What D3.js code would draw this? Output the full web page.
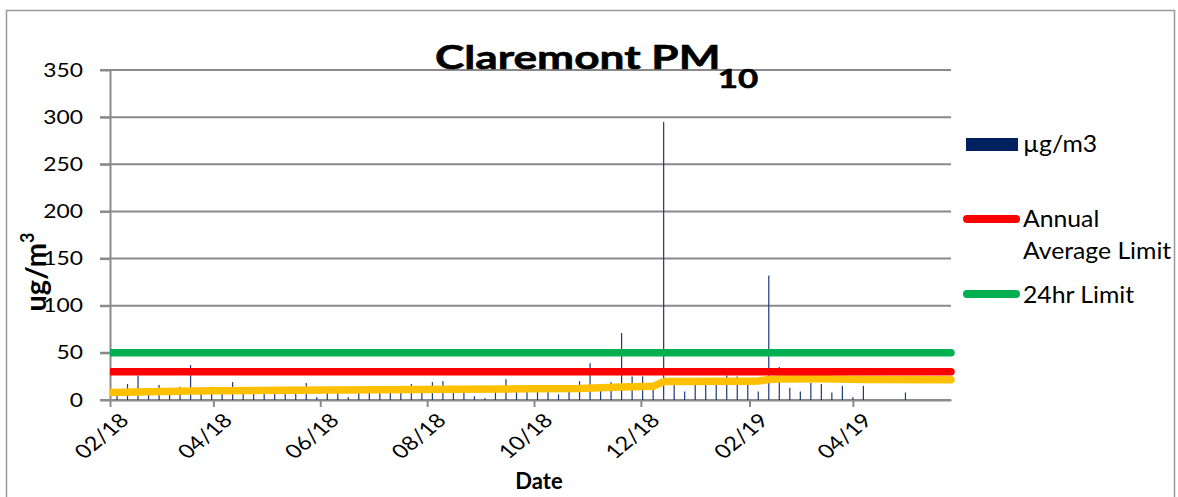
<!DOCTYPE html>
<html>
<head>
<meta charset="utf-8">
<script src="https://cdn.jsdelivr.net/npm/d3@7/dist/d3.min.js"></script>
<style>
  body { margin: 0; background: #fff; }
  text { font-family: Lato, "Open Sans", sans-serif; fill: #000; }
</style>
</head>
<body>
<svg width="1178" height="497"></svg>
<script>
// PM10 samples (1 in 6 day)
var sampleDates = [
  "2018-02-05", "2018-02-11", "2018-02-17", "2018-02-23", "2018-03-01", "2018-03-07",
  "2018-03-13", "2018-03-19", "2018-03-25", "2018-03-31", "2018-04-06", "2018-04-12",
  "2018-04-18", "2018-04-24", "2018-04-30", "2018-05-06", "2018-05-12", "2018-05-18",
  "2018-05-24", "2018-05-30", "2018-06-05", "2018-06-11", "2018-06-17", "2018-06-23",
  "2018-06-29", "2018-07-05", "2018-07-11", "2018-07-17", "2018-07-23", "2018-07-29",
  "2018-08-04", "2018-08-10", "2018-08-16", "2018-08-22", "2018-08-28", "2018-09-03",
  "2018-09-09", "2018-09-15", "2018-09-21", "2018-09-27", "2018-10-03", "2018-10-09",
  "2018-10-15", "2018-10-21", "2018-10-27", "2018-11-02", "2018-11-08", "2018-11-14",
  "2018-11-20", "2018-11-26", "2018-12-02", "2018-12-08", "2018-12-14", "2018-12-20",
  "2018-12-26", "2019-01-01", "2019-01-07", "2019-01-13", "2019-01-19", "2019-01-25",
  "2019-01-31", "2019-02-06", "2019-02-12", "2019-02-18", "2019-02-24", "2019-03-02",
  "2019-03-08", "2019-03-14", "2019-03-20", "2019-03-26", "2019-04-01", "2019-04-07",
  "2019-05-01"
];
var pm10 = [
  9, 17, 26, 10, 16, 9,
  14, 37, 10, 14, 9, 19,
  10, 11, 8, 10, 9, 11,
  18, 3, 9, 10, 3, 11,
  12, 10, 11, 9, 17, 12,
  19, 20, 11, 12, 4, 2,
  10, 22, 11, 12, 11, 12,
  6, 13, 20, 39, 13, 19,
  71, 25, 25, 18, 295, 18,
  9, 19, 18, 20, 26, 25,
  20, 9, 132, 35, 13, 9,
  18, 17, 8, 15, 3, 15,
  8
];

// running average (yellow line)
var avgDates = [
  "2018-02-01", "2018-03-19", "2018-04-01", "2018-05-12", "2018-07-05", "2018-08-16",
  "2018-09-27", "2018-10-27", "2018-11-20", "2018-12-08", "2018-12-14", "2019-01-31",
  "2019-02-06", "2019-02-12", "2019-02-18", "2019-03-14", "2019-04-07", "2019-05-27"
];
var avgValues = [
  8, 9.5, 9.8, 10.3, 11, 11.3,
  11.8, 12.3, 13.8, 14.5, 19.5, 20,
  20.2, 21.8, 22.3, 22.5, 21.8, 21.5
];

var limitDates = ["2018-02-01", "2019-05-27"];
var annualLimit = [30, 30];
var dailyLimit = [50, 50];

var xTicks = ["2018-02-01", "2018-04-01", "2018-06-01", "2018-08-01",
  "2018-10-01", "2018-12-01", "2019-02-01", "2019-04-01"];
var yTicks = [0, 50, 100, 150, 200, 250, 300, 350];
var legendLabels = [["µg/m3"], ["Annual", "Average Limit"], ["24hr Limit"]];

var parse = d3.timeParse("%Y-%m-%d");
var SX = 1.2; // text in the reference looks horizontally stretched

var svg = d3.select("svg");
var plot = { l: 110, r: 951, t: 70, b: 400 };

var x = d3.scaleTime()
  .domain([parse(limitDates[0]), parse(limitDates[1])])
  .range([plot.l, plot.r]);
var y = d3.scaleLinear().domain([0, 350]).range([plot.b, plot.t]);

// chart border
svg.append("rect")
  .attr("x", 6.5).attr("y", 10.5)
  .attr("width", 1168).attr("height", 520)
  .attr("fill", "none").attr("stroke", "#9a9a9a").attr("stroke-width", 1.5);

svg.append("defs").append("clipPath").attr("id", "clip")
  .append("rect")
  .attr("x", plot.l).attr("y", 0)
  .attr("width", 900).attr("height", 497);

// gridlines
svg.append("g").selectAll("line")
  .data(yTicks)
  .enter().append("line")
  .attr("x1", plot.l - 10).attr("x2", plot.r)
  .attr("y1", function (d) { return y(d); })
  .attr("y2", function (d) { return y(d); })
  .attr("stroke", "#8a8a8a").attr("stroke-width", 2);

// y axis
var yAxis = svg.append("g")
  .attr("transform", "translate(" + plot.l + ",0)")
  .call(d3.axisLeft(y).tickValues(yTicks).tickSizeInner(10).tickSizeOuter(0).tickPadding(17));
yAxis.select(".domain").attr("stroke", "#8a8a8a").attr("stroke-width", 2);
yAxis.selectAll(".tick line").attr("stroke", "#8a8a8a").attr("stroke-width", 2);
yAxis.selectAll(".tick text")
  .attr("font-size", 19)
  .attr("font-family", "Lato")
  .each(function () {
    var t = d3.select(this);
    var tx = +t.attr("x");
    t.attr("x", 0).attr("transform", "translate(" + tx + ",0) scale(" + SX + ",1)");
  });

// x axis
var xAxis = svg.append("g")
  .attr("transform", "translate(0," + plot.b + ")")
  .call(d3.axisBottom(x)
    .tickValues(xTicks.map(parse))
    .tickFormat(d3.timeFormat("%m/%y"))
    .tickSizeInner(7).tickSizeOuter(0));
xAxis.select(".domain").attr("stroke", "#8a8a8a").attr("stroke-width", 2);
xAxis.selectAll(".tick line").attr("stroke", "#8a8a8a").attr("stroke-width", 2);
xAxis.selectAll(".tick text")
  .attr("font-size", 19.5)
  .attr("font-family", "Lato")
  .attr("y", 0).attr("dy", "0.35em")
  .attr("text-anchor", "middle")
  .attr("transform", "translate(-9,36) scale(" + SX + ",1) rotate(-45)");

// bars
svg.append("g").selectAll("rect")
  .data(pm10)
  .enter().append("rect")
  .attr("x", function (d, i) { return x(parse(sampleDates[i])) - 0.6; })
  .attr("width", 1.2)
  .attr("y", function (d) { return y(d); })
  .attr("height", function (d) { return y(0) - y(d); })
  .attr("fill", "#1f3a78");

var line = d3.line()
  .x(function (d) { return x(d[0]); })
  .y(function (d) { return y(d[1]); });

var lines = svg.append("g").attr("clip-path", "url(#clip)");

lines.append("path")
  .datum(avgDates.map(function (d, i) { return [parse(d), avgValues[i]]; }))
  .attr("d", line)
  .attr("fill", "none").attr("stroke", "#ffc000")
  .attr("stroke-width", 7.5).attr("stroke-linecap", "round").attr("stroke-linejoin", "round");

lines.append("path")
  .datum(limitDates.map(function (d, i) { return [parse(d), annualLimit[i]]; }))
  .attr("d", line)
  .attr("fill", "none").attr("stroke", "#ff0000")
  .attr("stroke-width", 7.5).attr("stroke-linecap", "round");

lines.append("path")
  .datum(limitDates.map(function (d, i) { return [parse(d), dailyLimit[i]]; }))
  .attr("d", line)
  .attr("fill", "none").attr("stroke", "#00b050")
  .attr("stroke-width", 7.5).attr("stroke-linecap", "round");

// title
var title = svg.append("text")
  .attr("transform", "translate(435,69) scale(1.34,1)")
  .attr("font-weight", "bold")
  .attr("stroke", "#000").attr("stroke-width", 0.6);
title.append("tspan").attr("font-size", 33).text("Claremont PM");
title.append("tspan").attr("font-size", 26).attr("dx", -2).attr("dy", 19).text("10");

// axis titles
svg.append("text")
  .attr("x", 539).attr("y", 489)
  .attr("text-anchor", "middle")
  .attr("font-weight", "bold").attr("font-size", 22)
  .text("Date");

var yTitle = svg.append("text")
  .attr("transform", "translate(46,272) rotate(-90)")
  .attr("text-anchor", "middle")
  .attr("font-weight", "bold").attr("font-size", 29);
yTitle.append("tspan").text("ug/m");
yTitle.append("tspan").attr("font-size", 18).attr("dy", -12).text("3");

// legend
var legend = svg.append("g");
legend.append("rect")
  .attr("x", 966).attr("y", 138).attr("width", 52).attr("height", 13)
  .attr("fill", "#002060");
legend.append("line")
  .attr("x1", 967).attr("x2", 1016).attr("y1", 219).attr("y2", 219)
  .attr("stroke", "#ff0000").attr("stroke-width", 8).attr("stroke-linecap", "round");
legend.append("line")
  .attr("x1", 967).attr("x2", 1016).attr("y1", 294).attr("y2", 294)
  .attr("stroke", "#00b050").attr("stroke-width", 8).attr("stroke-linecap", "round");

var legendY = [152, 227, 303];
legendLabels.forEach(function (rows, i) {
  rows.forEach(function (r, j) {
    legend.append("text")
      .attr("transform", "translate(1023," + (legendY[i] + j * 32) + ") scale(1.1,1)")
      .attr("font-size", 22.5)
      .text(r);
  });
});
</script>
</body>
</html>
